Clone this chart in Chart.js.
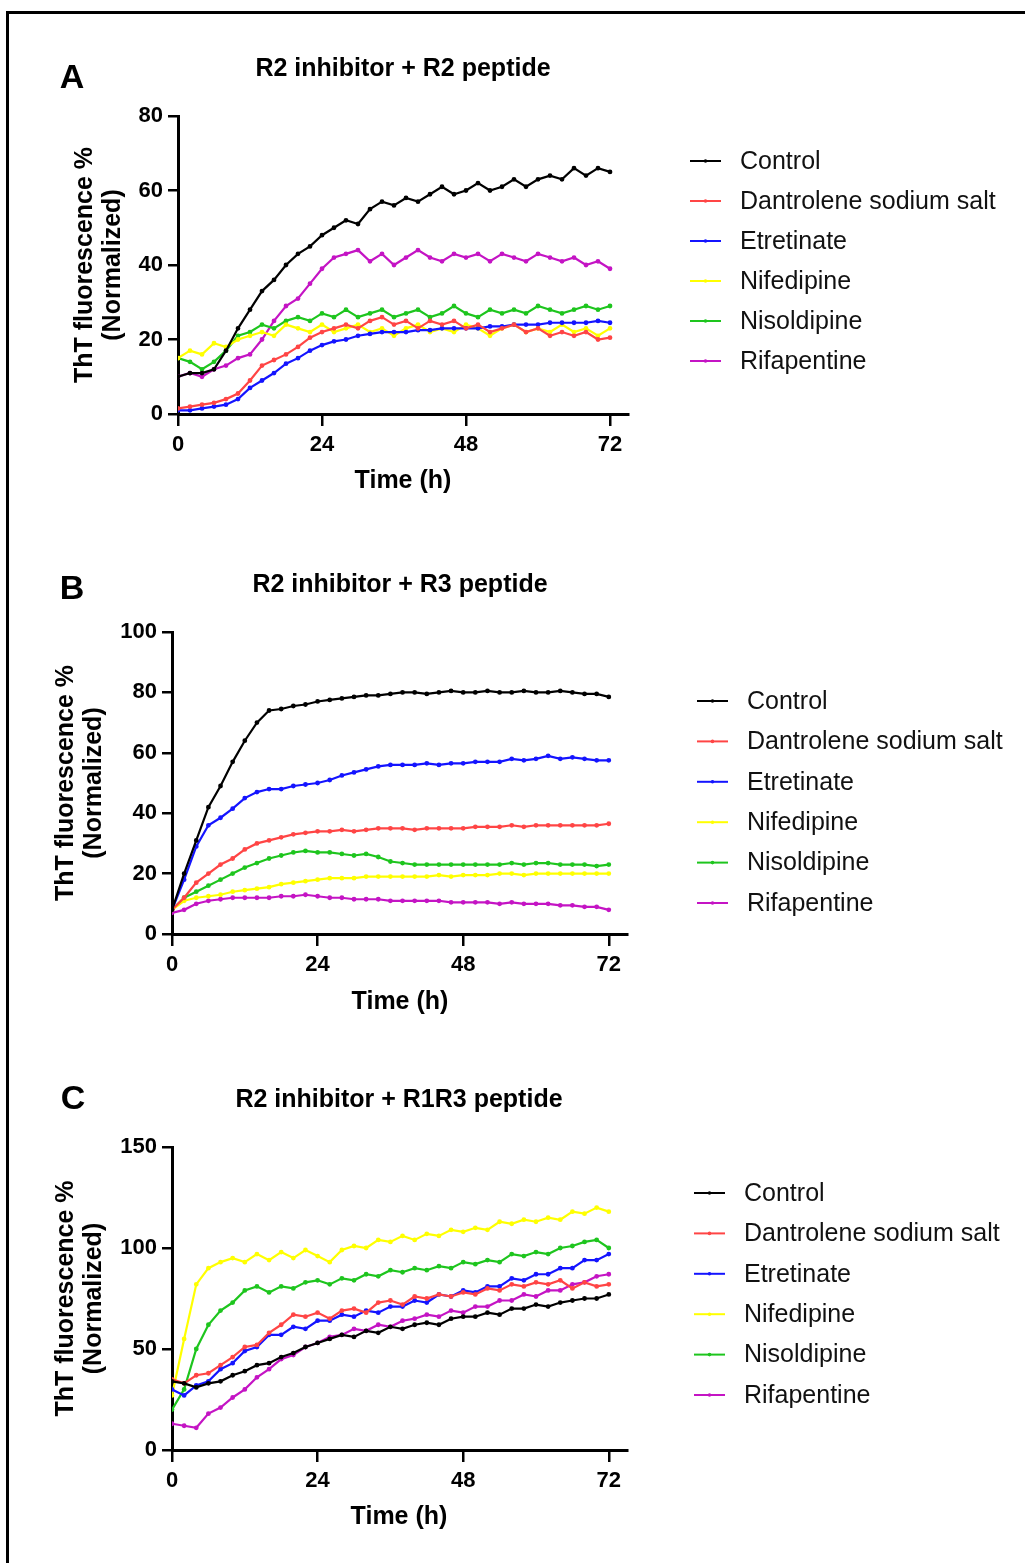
<!DOCTYPE html>
<html>
<head>
<meta charset="utf-8">
<script src="https://cdn.jsdelivr.net/npm/chart.js@4.4.1/dist/chart.umd.min.js"></script>
<style>
    html, body { margin: 0; padding: 0; background: #fff; }
    body { width: 1025px; height: 1563px; position: relative; overflow: hidden; }
    #marco { position: absolute; left: 6px; top: 11px; width: 1100px; height: 1700px; border-left: 3px solid #000; border-top: 3px solid #000; }
    canvas { position: absolute; left: 0; top: 0; }
</style>
</head>
<body>
<div id="marco"></div>
<canvas id="panelA" width="1025" height="1563"></canvas>
<canvas id="panelB" width="1025" height="1563"></canvas>
<canvas id="panelC" width="1025" height="1563"></canvas>
<script>
// Tiempo (h) de cada lectura
const horas = [0, 2, 4, 6, 8, 10, 12, 14, 16, 18, 20, 22, 24, 26, 28, 30, 32, 34, 36,
    38, 40, 42, 44, 46, 48, 50, 52, 54, 56, 58, 60, 62, 64, 66, 68, 70, 72];

const nombres = ['Control', 'Dantrolene sodium salt', 'Etretinate', 'Nifedipine', 'Nisoldipine', 'Rifapentine'];

const ticksX = [0, 24, 48, 72];
const ticksYA = [0, 20, 40, 60, 80];
const ticksYB = [0, 20, 40, 60, 80, 100];
const ticksYC = [0, 50, 100, 150];

// Panel A: R2 inhibitor + R2 peptide
const aControl = [10, 11, 11, 12, 17, 23, 28, 33, 36, 40, 43, 45, 48, 50, 52, 51, 55, 57, 56, 58, 57, 59, 61, 59, 60, 62, 60, 61, 63, 61, 63, 64, 63, 66, 64, 66, 65];
const aDantrolene = [1.5, 2, 2.5, 3, 4, 5.5, 9, 13, 14.5, 16, 18, 20.5, 22, 23, 24, 23, 25, 26, 24, 25, 23, 25, 24, 25, 23, 24, 22, 23, 24, 22, 23, 21, 22, 21, 22, 20, 20.5];
const aEtretinate = [1, 1, 1.5, 2, 2.5, 4, 7, 9, 11, 13.5, 15, 17, 18.5, 19.5, 20, 21, 21.5, 22, 22, 22, 22.5, 22.5, 23, 23, 23, 23, 23.5, 23.5, 24, 24, 24, 24.5, 24.5, 24.5, 24.5, 25, 24.5];
const aNifedipine = [15, 17, 16, 19, 18, 20, 21, 22, 21, 24, 23, 22, 24, 22, 23, 24, 22, 23, 21, 23, 24, 22, 23, 22, 24, 23, 21, 23, 24, 22, 23, 22, 24, 22, 23, 21, 23];
const aNisoldipine = [15, 14, 12, 14, 17, 21, 22, 24, 23, 25, 26, 25, 27, 26, 28, 26, 27, 28, 26, 27, 28, 26, 27, 29, 27, 26, 28, 27, 28, 27, 29, 28, 27, 28, 29, 28, 29];
const aRifapentine = [10, 11, 10, 12, 13, 15, 16, 20, 25, 29, 31, 35, 39, 42, 43, 44, 41, 43, 40, 42, 44, 42, 41, 43, 42, 43, 41, 43, 42, 41, 43, 42, 41, 42, 40, 41, 39];

// Panel B: R2 inhibitor + R3 peptide
const bControl = [8, 20, 31, 42, 49, 57, 64, 70, 74, 74.5, 75.5, 76, 77, 77.5, 78, 78.5, 79, 79, 79.5, 80, 80, 79.5, 80, 80.5, 80, 80, 80.5, 80, 80, 80.5, 80, 80, 80.5, 80, 79.5, 79.5, 78.5];
const bDantrolene = [8, 12, 17, 20, 23, 25, 28, 30, 31, 32, 33, 33.5, 34, 34, 34.5, 34, 34.5, 35, 35, 35, 34.5, 35, 35, 35, 35, 35.5, 35.5, 35.5, 36, 35.5, 36, 36, 36, 36, 36, 36, 36.5];
const bEtretinate = [8, 18, 29, 36, 38.5, 41.5, 45, 47, 48, 48, 49, 49.5, 50, 51, 52.5, 53.5, 54.5, 55.5, 56, 56, 56, 56.5, 56, 56.5, 56.5, 57, 57, 57, 58, 57.5, 58, 59, 58, 58.5, 58, 57.5, 57.5];
const bNifedipine = [8, 11, 12, 12.5, 13, 14, 14.5, 15, 15.5, 16.5, 17, 17.5, 18, 18.5, 18.5, 18.5, 19, 19, 19, 19, 19, 19, 19.5, 19, 19.5, 19.5, 19.5, 20, 20, 19.5, 20, 20, 20, 20, 20, 20, 20];
const bNisoldipine = [8, 12, 14, 16, 18, 20, 22, 23.5, 25, 26, 27, 27.5, 27, 27, 26.5, 26, 26.5, 25.5, 24, 23.5, 23, 23, 23, 23, 23, 23, 23, 23, 23.5, 23, 23.5, 23.5, 23, 23, 23, 22.5, 23];
const bRifapentine = [7, 8, 10, 11, 11.5, 12, 12, 12, 12, 12.5, 12.5, 13, 12.5, 12, 12, 11.5, 11.5, 11.5, 11, 11, 11, 11, 11, 10.5, 10.5, 10.5, 10.5, 10, 10.5, 10, 10, 10, 9.5, 9.5, 9, 9, 8];

// Panel C: R2 inhibitor + R1R3 peptide
const cControl = [34, 33, 31, 33, 34, 37, 39, 42, 43, 46, 48, 51, 53, 55, 57, 56, 59, 58, 61, 60, 62, 63, 62, 65, 66, 66, 68, 67, 70, 70, 72, 71, 73, 74, 75, 75, 77];
const cDantrolene = [35, 33, 37, 38, 42, 46, 51, 52, 58, 62, 67, 66, 68, 65, 69, 70, 68, 73, 74, 72, 76, 75, 77, 76, 78, 77, 80, 79, 82, 81, 83, 82, 84, 80, 83, 81, 82];
const cEtretinate = [30, 27, 32, 34, 40, 43, 49, 51, 57, 57, 61, 60, 64, 64, 67, 66, 69, 68, 71, 71, 74, 73, 77, 76, 79, 78, 81, 81, 85, 84, 87, 87, 90, 90, 94, 94, 97];
const cNifedipine = [27, 55, 82, 90, 93, 95, 93, 97, 94, 98, 95, 99, 96, 93, 99, 101, 100, 104, 103, 106, 104, 107, 106, 109, 108, 110, 109, 113, 112, 114, 113, 115, 114, 118, 117, 120, 118];
const cNisoldipine = [20, 30, 50, 62, 69, 73, 79, 81, 78, 81, 80, 83, 84, 82, 85, 84, 87, 86, 89, 88, 90, 89, 91, 90, 93, 92, 94, 93, 97, 96, 98, 97, 100, 101, 103, 104, 100];
const cRifapentine = [13, 12, 11, 18, 21, 26, 30, 36, 40, 45, 47, 51, 53, 56, 57, 60, 59, 62, 61, 64, 65, 67, 66, 69, 68, 71, 71, 74, 74, 77, 76, 79, 79, 82, 83, 86, 87];

const colores = ['#000000', '#ff4545', '#1414ff', '#ffff00', '#1ec51e', '#c414c4'];

const FUENTE = '"Liberation Sans", Arial, sans-serif';
const ANCHO = 1025, ALTO = 1563;
const ANCHO_Y = 60, ALTO_X = 45;

// Dibuja letra del panel, titulo, titulos de ejes y leyenda
const decoracion = {
    id: 'decoracion',
    afterDraw(chart, args, opts) {
        const ctx = chart.ctx;
        const area = chart.chartArea;
        ctx.save();
        ctx.fillStyle = '#000';
        ctx.textAlign = 'center';
        ctx.textBaseline = 'middle';
        ctx.font = 'bold 34px ' + FUENTE;
        ctx.fillText(opts.letra, opts.letraX, opts.letraY);
        ctx.font = 'bold 25px ' + FUENTE;
        ctx.fillText(opts.titulo, opts.tituloX, opts.tituloY);
        ctx.fillText('Time (h)', opts.tituloX, opts.ejeXY);

        ctx.save();
        ctx.translate(opts.ejeYX, (area.top + area.bottom) / 2);
        ctx.rotate(-Math.PI / 2);
        ctx.fillText('ThT fluorescence %', 0, 0);
        ctx.fillText('(Normalized)', 0, 28);
        ctx.restore();

        ctx.textAlign = 'left';
        ctx.font = '25px ' + FUENTE;
        chart.data.datasets.forEach((ds, i) => {
            const y = opts.leyendaY + i * opts.leyendaPaso;
            ctx.strokeStyle = ds.borderColor;
            ctx.lineWidth = 2;
            ctx.beginPath();
            ctx.moveTo(opts.leyendaX, y);
            ctx.lineTo(opts.leyendaX + 31, y);
            ctx.stroke();
            ctx.fillStyle = ds.borderColor;
            ctx.beginPath();
            ctx.arc(opts.leyendaX + 15.5, y, 1.8, 0, 2 * Math.PI);
            ctx.fill();
            ctx.fillStyle = '#111';
            ctx.fillText(ds.label, opts.leyendaX + 50, y + 1);
        });
        ctx.restore();
    }
};

const crearPanel = (canvasId, series, ticksY, maxY, area, deco) => {
    const ctx = document.getElementById(canvasId).getContext('2d');
    new Chart(ctx, {
        type: 'line',
        data: {
            datasets: series.map((valores, i) => ({
                label: nombres[i],
                data: valores.map((v, j) => ({ x: horas[j], y: v })),
                borderColor: colores[i],
                backgroundColor: colores[i],
                borderWidth: 2.2,
                pointRadius: 1.3,
                pointHoverRadius: 1.3,
                tension: 0
            }))
        },
        options: {
            responsive: false,
            animation: false,
            layout: {
                padding: {
                    left: area.left - ANCHO_Y,
                    top: area.top,
                    right: ANCHO - area.right,
                    bottom: ALTO - area.bottom - ALTO_X
                }
            },
            scales: {
                x: {
                    type: 'linear',
                    min: 0,
                    max: 75,
                    afterBuildTicks: (s) => { s.ticks = ticksX.map(v => ({ value: v })); },
                    afterFit: (s) => { s.height = ALTO_X; },
                    grid: { drawOnChartArea: false, color: '#000', lineWidth: 2.5, tickLength: 12 },
                    border: { color: '#000', width: 3 },
                    ticks: { color: '#000', padding: 6, maxRotation: 0, font: { family: FUENTE, size: 22, weight: 'bold' } }
                },
                y: {
                    min: 0,
                    max: maxY,
                    afterBuildTicks: (s) => { s.ticks = ticksY.map(v => ({ value: v })); },
                    afterFit: (s) => { s.width = ANCHO_Y; },
                    grid: { drawOnChartArea: false, color: '#000', lineWidth: 2.5, tickLength: 10 },
                    border: { color: '#000', width: 3 },
                    ticks: { color: '#000', padding: 5, font: { family: FUENTE, size: 22, weight: 'bold' } }
                }
            },
            plugins: {
                legend: { display: false },
                tooltip: { enabled: false },
                decoracion: deco
            }
        },
        plugins: [decoracion]
    });
};

crearPanel('panelA',
    [aControl, aDantrolene, aEtretinate, aNifedipine, aNisoldipine, aRifapentine],
    ticksYA, 80,
    { left: 178, top: 116, right: 628, bottom: 414 },
    { letra: 'A', letraX: 72, letraY: 79, titulo: 'R2 inhibitor + R2 peptide', tituloX: 403, tituloY: 69,
      ejeXY: 481, ejeYX: 85, leyendaX: 690, leyendaY: 161, leyendaPaso: 40 });

crearPanel('panelB',
    [bControl, bDantrolene, bEtretinate, bNifedipine, bNisoldipine, bRifapentine],
    ticksYB, 100,
    { left: 172, top: 632, right: 627, bottom: 934 },
    { letra: 'B', letraX: 72, letraY: 590, titulo: 'R2 inhibitor + R3 peptide', tituloX: 400, tituloY: 585,
      ejeXY: 1002, ejeYX: 66, leyendaX: 697, leyendaY: 701, leyendaPaso: 40.4 });

crearPanel('panelC',
    [cControl, cDantrolene, cEtretinate, cNifedipine, cNisoldipine, cRifapentine],
    ticksYC, 150,
    { left: 172, top: 1147, right: 627, bottom: 1450 },
    { letra: 'C', letraX: 73, letraY: 1100, titulo: 'R2 inhibitor + R1R3 peptide', tituloX: 399, tituloY: 1100,
      ejeXY: 1517, ejeYX: 66, leyendaX: 694, leyendaY: 1193, leyendaPaso: 40.4 });
</script>
</body>
</html>
